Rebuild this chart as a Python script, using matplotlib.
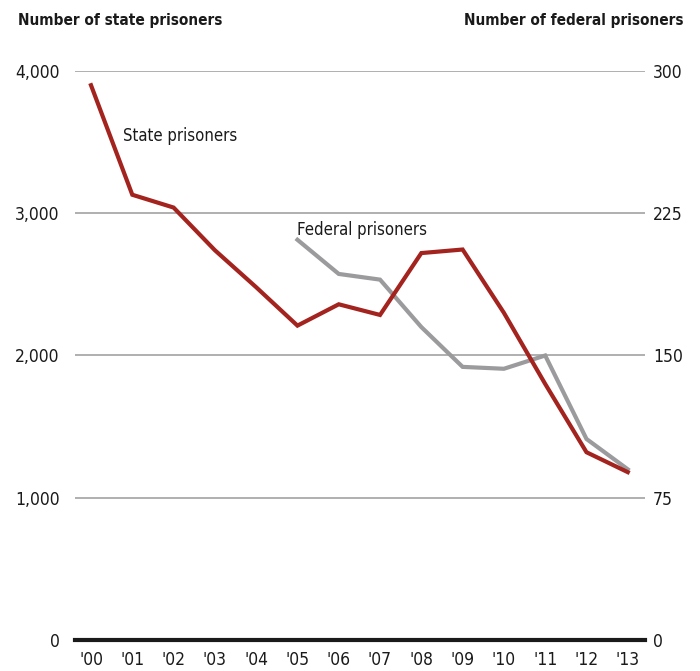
import matplotlib.pyplot as plt
from matplotlib.ticker import FuncFormatter

plt.rcParams['font.family'] = ['DejaVu Sans']
plt.rcParams['font.stretch'] = 'condensed'

# data
years = ["'00", "'01", "'02", "'03", "'04", "'05", "'06", "'07",
         "'08", "'09", "'10", "'11", "'12", "'13"]
state = [3900, 3130, 3040, 2740, 2480, 2210, 2360, 2285,
         2720, 2745, 2300, 1800, 1320, 1180]
fed_years = years[5:]
federal = [211, 193, 190, 165, 144, 143, 150, 106, 90]

left_ticks = [0, 1000, 2000, 3000, 4000]
right_ticks = [0, 75, 150, 225, 300]

red = '#a3231f'
grey = '#9b9b9d'

fig = plt.figure(figsize=(7, 6.71), dpi=100)
ax = fig.add_axes([0.107, 0.0462, 0.814, 0.848])
ax2 = ax.twinx()

x_all = list(range(len(years)))
x_fed = [years.index(y) for y in fed_years]

ax.plot(x_all, state, color=red, lw=3.0, solid_joinstyle='miter', zorder=3, clip_on=False)
ax2.plot(x_fed, federal, color=grey, lw=3.0, solid_joinstyle='miter', zorder=2, clip_on=False)

ax.set_xlim(-0.39, 13.41)
ax.set_ylim(0, 4000)
ax2.set_ylim(0, 300)
ax.set_xticks(x_all)
ax.set_xticklabels(years)
ax.set_yticks(left_ticks)
ax2.set_yticks(right_ticks)
ax.yaxis.set_major_formatter(FuncFormatter(lambda v, p: f"{int(v):,}"))

ax.grid(axis='y', color='#9a9a9a', lw=1.1)
ax.set_axisbelow(True)
ax2.set_zorder(ax.get_zorder() - 1)
ax.patch.set_visible(False)

for a in (ax, ax2):
    for s in ('top', 'left', 'right', 'bottom'):
        a.spines[s].set_visible(False)
ax.axhline(0, color='#1a1a1a', lw=3, zorder=4, clip_on=False)

ax.tick_params(axis='both', length=0, labelsize=12.5, colors='#1a1a1a')
ax.tick_params(axis='y', pad=11)
ax.tick_params(axis='x', pad=8)
ax2.tick_params(axis='y', length=0, labelsize=12.5, colors='#1a1a1a', pad=6)

ax.text(0.775, 3543, 'State prisoners', fontsize=12, va='center', ha='left', color='#1a1a1a')
ax.text(4.99, 2882, 'Federal prisoners', fontsize=12, va='center', ha='left', color='#1a1a1a')

fig.text(18 / 700, 1 - 20 / 671, 'Number of state prisoners', fontsize=11,
         fontweight='bold', ha='left', va='center', color='#1a1a1a')
fig.text(683 / 700, 1 - 20 / 671, 'Number of federal prisoners', fontsize=11,
         fontweight='bold', ha='right', va='center', color='#1a1a1a')

fig.savefig('out.png', dpi=100)
